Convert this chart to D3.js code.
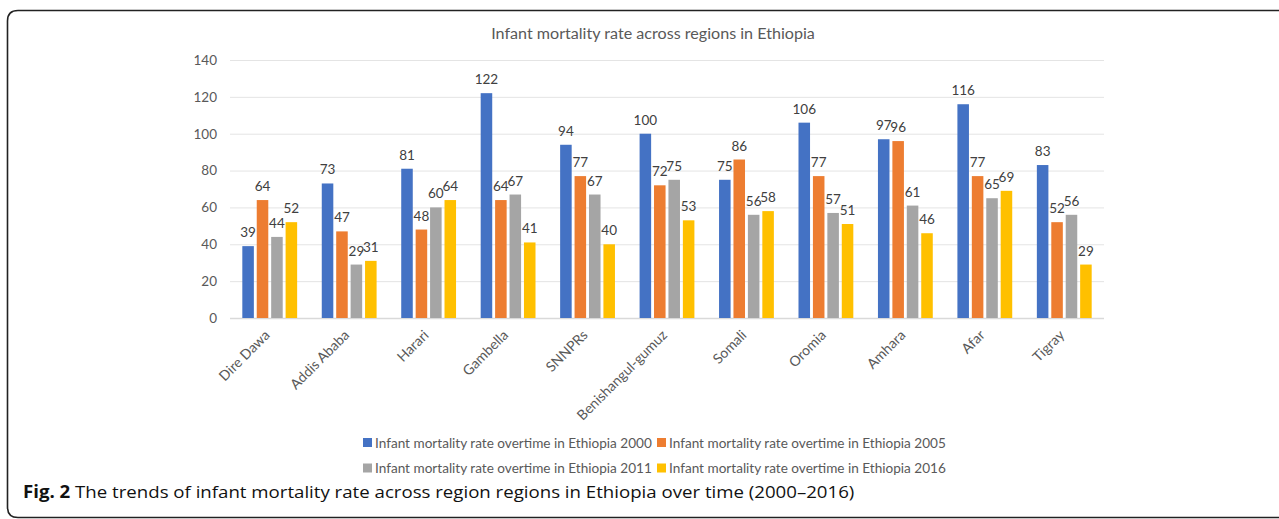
<!DOCTYPE html>
<html><head><meta charset="utf-8">
<script src="https://cdn.jsdelivr.net/npm/d3@7"></script>
<style>
html,body{margin:0;padding:0;background:#fff;}
svg{display:block;}
</style></head>
<body>
<svg id="chart" width="1279" height="519"></svg>
<script>
const regions = ["Dire Dawa","Addis Ababa","Harari","Gambella","SNNPRs","Benishangul-gumuz","Somali","Oromia","Amhara","Afar","Tigray"];
const seriesNames = ["Infant mortality rate overtime in Ethiopia 2000","Infant mortality rate overtime in Ethiopia 2005","Infant mortality rate overtime in Ethiopia 2011","Infant mortality rate overtime in Ethiopia 2016"];
const v2000 = [39,73,81,122,94,100,75,106,97,116,83];
const v2005 = [64,47,48,64,77,72,86,77,96,77,52];
const v2011 = [44,29,60,67,67,75,56,57,61,65,56];
const v2016 = [52,31,64,41,40,53,58,51,46,69,29];
const yTicks = [0,20,40,60,80,100,120,140];
const colors = ["#4472C4","#ED7D31","#A5A5A5","#FFC000"];
const title = "Infant mortality rate across regions in Ethiopia";
const captionBold = "Fig. 2";
const captionText = " The trends of infant mortality rate across region regions in Ethiopia over time (2000–2016)";

(function(){
const series = [v2000,v2005,v2011,v2016];
const svg = d3.select("#chart");
const font = "Lato, 'Open Sans', sans-serif";

function fitFont(sel, target){
  const w = sel.node().getComputedTextLength();
  const fs = +sel.attr("font-size");
  sel.attr("font-size", fs*target/w);
}

// outer frame
svg.append("path")
  .attr("d","M1290,10.5 L18,10.5 Q7.5,10.5 7.5,21 L7.5,507 Q7.5,517.5 18,517.5 L1290,517.5")
  .attr("fill","none").attr("stroke","#222").attr("stroke-width",1.6);

const pLeft=230, pRight=1104, pTop=60, pBottom=318;
const x = d3.scaleBand().domain(regions).range([pLeft,pRight]).paddingInner(0.31).paddingOuter(0.155);
const xs = d3.scaleBand().domain(d3.range(4)).range([0,x.bandwidth()]).paddingInner(0.2);
const y = d3.scaleLinear().domain([0,140]).range([pBottom,pTop]);

// gridlines
svg.append("g").selectAll("line").data(yTicks).join("line")
  .attr("x1",pLeft).attr("x2",pRight)
  .attr("y1",d=>y(d)+0.5).attr("y2",d=>y(d)+0.5)
  .attr("stroke",d=>d===0?"#d9d9d9":"#e4e4e4").attr("stroke-width",d=>d===0?1.5:1);

// y axis labels
const yAxis = d3.axisLeft(y).tickValues(yTicks).tickSize(0).tickPadding(0);
const yg = svg.append("g").attr("transform",`translate(${pLeft-13},0)`).call(yAxis);
yg.select(".domain").remove();
yg.selectAll("text").attr("font-family",font).attr("font-size",13.5).attr("fill","#595959");

// bars
const groups = svg.append("g").selectAll("g").data(regions).join("g")
  .attr("transform",d=>`translate(${x(d)},0)`);
groups.each(function(r,i){
  const g = d3.select(this);
  series.forEach((s,k)=>{
    g.append("rect")
      .attr("x",xs(k)).attr("width",xs.bandwidth())
      .attr("y",y(s[i])).attr("height",y(0)-y(s[i]))
      .attr("fill",colors[k]);
    g.append("text")
      .attr("x",xs(k)+xs.bandwidth()/2).attr("y",y(s[i])-9)
      .attr("text-anchor","middle")
      .attr("font-family",font).attr("font-size",13.5).attr("fill","#404040")
      .text(s[i]);
  });
});

// x axis labels
const xAxis = d3.axisBottom(x).tickSize(0).tickPadding(0);
const xg = svg.append("g").attr("transform",`translate(0,${pBottom})`).call(xAxis);
xg.select(".domain").remove();
xg.selectAll("text")
  .attr("font-family",font).attr("font-size",14).attr("fill","#595959")
  .attr("text-anchor","end")
  .attr("dy",null).attr("y",0)
  .attr("transform","translate(1,18) rotate(-45)");

// title
const t = svg.append("text").attr("x",653).attr("y",38.5).attr("text-anchor","middle")
  .attr("font-family",font).attr("font-size",15).attr("fill","#595959").text(title);
fitFont(t, 324);

// legend
const legPos = [[363,442.5],[657,442.5],[363,468],[657,468]];
const lg = svg.append("g").selectAll("g").data(seriesNames).join("g")
  .attr("transform",(d,i)=>`translate(${legPos[i][0]},${legPos[i][1]})`);
lg.append("rect").attr("x",0).attr("y",-4.5).attr("width",9).attr("height",9).attr("fill",(d,i)=>colors[i]);
lg.append("text").attr("x",12).attr("y",5).attr("font-family",font).attr("font-size",13).attr("fill","#595959").text(d=>d)
  .each(function(){ fitFont(d3.select(this), 277); });

// caption
const cap = svg.append("text").attr("x",0).attr("y",0).attr("font-family","'Open Sans', sans-serif").attr("font-size",17).attr("fill","#111");
cap.append("tspan").attr("font-weight","bold").text(captionBold);
cap.append("tspan").text(captionText);
const cw = cap.node().getBBox().width;
cap.attr("transform",`translate(23,498) scale(${832/cw},1)`);
})();
</script>
</body></html>
